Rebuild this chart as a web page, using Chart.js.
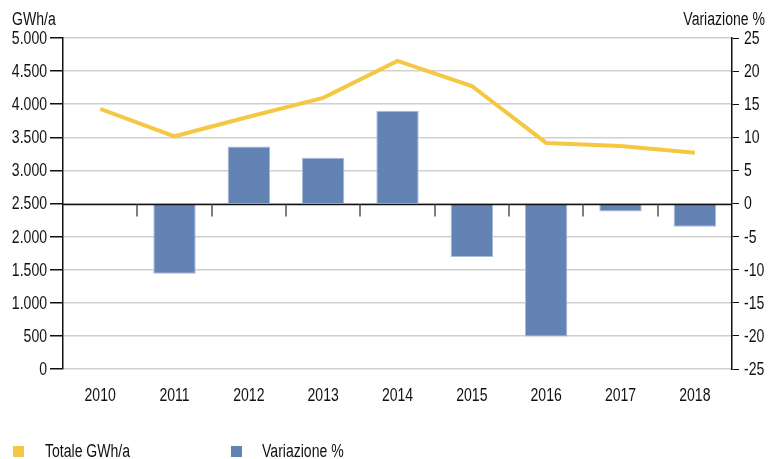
<!DOCTYPE html>
<html>
<head>
<meta charset="utf-8">
<script src="https://cdn.jsdelivr.net/npm/chart.js@4/dist/chart.umd.min.js"></script>
<style>
  html, body { margin: 0; padding: 0; background: #fff; }
  #wrap { position: relative; width: 770px; height: 459px; }
</style>
</head>
<body>
<div id="wrap"><canvas id="chart" width="770" height="459"></canvas></div>
<script>
const years      = ['2010', '2011', '2012', '2013', '2014', '2015', '2016', '2017', '2018'];
const totaleGwh  = [3930, 3515, 3810, 4095, 4655, 4275, 3415, 3370, 3265];
const variazione = [null, -10.6, 8.6, 6.9, 14.0, -8.1, -20.1, -1.2, -3.5];
const leftTicks  = [0, 500, 1000, 1500, 2000, 2500, 3000, 3500, 4000, 4500, 5000];
const rightTicks = [-25, -20, -15, -10, -5, 0, 5, 10, 15, 20, 25];

const FONT = '"Liberation Sans", Arial, sans-serif';
const SQUEEZE = 0.78;   // horizontal squeeze to get a condensed face
const YELLOW = '#f5c843';
const BLUE = '#6283b3';
const INK = '#111';

function fmtThousands(v) {
  return String(v).replace(/\B(?=(\d{3})+(?!\d))/g, '.');
}

// condensed text: regular face squeezed horizontally
function narrowText(ctx, text, x, y, align) {
  ctx.save();
  ctx.translate(x, y);
  ctx.scale(SQUEEZE, 1);
  ctx.textAlign = align;
  ctx.fillText(text, 0, 0);
  ctx.restore();
}

const labelsPlugin = {
  id: 'narrowLabels',
  afterDatasetsDraw(chart) {
    const { ctx, chartArea, scales } = chart;
    // zero line of the % axis, with separators between categories
    const y0 = Math.round(scales.yPct.getPixelForValue(0)) + 0.5;
    ctx.save();
    ctx.strokeStyle = INK;
    ctx.lineWidth = 1.5;
    ctx.beginPath();
    ctx.moveTo(chartArea.left, y0);
    ctx.lineTo(chartArea.right, y0);
    ctx.stroke();
    ctx.strokeStyle = '#555';
    for (let i = 1; i < years.length; i++) {
      const x = Math.round((scales.x.getPixelForValue(i - 1) + scales.x.getPixelForValue(i)) / 2);
      ctx.beginPath();
      ctx.moveTo(x, y0);
      ctx.lineTo(x, y0 + 12);
      ctx.stroke();
    }
    ctx.restore();
  },
  afterDraw(chart) {
    const { ctx, chartArea, scales } = chart;
    ctx.save();
    ctx.fillStyle = INK;
    ctx.font = '18px ' + FONT;
    ctx.textBaseline = 'middle';

    leftTicks.forEach(v => {
      narrowText(ctx, fmtThousands(v), 47, scales.yGwh.getPixelForValue(v) + 1, 'right');
    });
    rightTicks.forEach(v => {
      narrowText(ctx, v < 0 ? '-' + Math.abs(v) : String(v), chartArea.right + 12, scales.yPct.getPixelForValue(v) + 1, 'left');
    });
    years.forEach((y, i) => {
      narrowText(ctx, y, scales.x.getPixelForValue(i), 396, 'center');
    });

    narrowText(ctx, 'GWh/a', 12, 20, 'left');
    narrowText(ctx, 'Variazione %', 765, 20, 'right');

    // legend
    ctx.fillStyle = YELLOW;
    ctx.fillRect(13, 446, 11, 11);
    ctx.fillStyle = BLUE;
    ctx.fillRect(231, 446, 11, 11);
    ctx.fillStyle = INK;
    narrowText(ctx, 'Totale GWh/a', 45, 452, 'left');
    narrowText(ctx, 'Variazione %', 262, 452, 'left');
    ctx.restore();
  }
};

new Chart(document.getElementById('chart'), {
  data: {
    labels: years,
    datasets: [
      {
        type: 'line',
        label: 'Totale GWh/a',
        data: totaleGwh,
        yAxisID: 'yGwh',
        borderColor: YELLOW,
        borderWidth: 4,
        pointRadius: 0,
        tension: 0,
        order: 0
      },
      {
        type: 'bar',
        label: 'Variazione %',
        data: variazione,
        yAxisID: 'yPct',
        backgroundColor: BLUE,
        borderColor: '#a9bcd8',
        borderWidth: 1,
        barPercentage: 0.57,
        categoryPercentage: 1,
        order: 1
      }
    ]
  },
  options: {
    responsive: false,
    animation: false,
    layout: { padding: { top: 38, bottom: 42, left: 0, right: 0 } },
    plugins: {
      legend: { display: false },
      tooltip: { enabled: false }
    },
    scales: {
      x: {
        grid: { display: false },
        border: { display: false },
        ticks: { color: 'rgba(0,0,0,0)', font: { family: FONT, size: 17 } },
        afterFit(s) { s.height = 48; }
      },
      yGwh: {
        position: 'left',
        min: 0,
        max: 5000,
        afterBuildTicks(s) { s.ticks = leftTicks.map(v => ({ value: v })); },
        grid: { color: '#d0d0d0', lineWidth: 1.5, tickColor: INK, tickLength: 13 },
        border: { color: INK, width: 1.5 },
        ticks: { color: 'rgba(0,0,0,0)', font: { family: FONT, size: 17 } },
        afterFit(s) { s.width = 63; }
      },
      yPct: {
        position: 'right',
        min: -25,
        max: 25,
        afterBuildTicks(s) { s.ticks = rightTicks.map(v => ({ value: v })); },
        grid: { drawOnChartArea: false, tickColor: INK, tickLength: 7 },
        border: { color: INK, width: 1.5 },
        ticks: { color: 'rgba(0,0,0,0)', font: { family: FONT, size: 17 } },
        afterFit(s) { s.width = 38; }
      }
    }
  },
  plugins: [labelsPlugin]
});
</script>
</body>
</html>
